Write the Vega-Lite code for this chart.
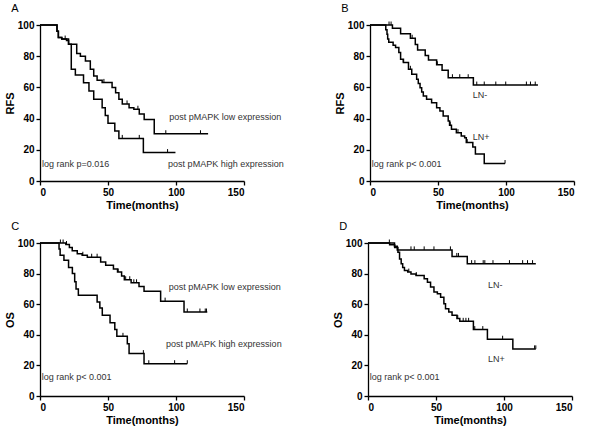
{
  "$schema": "https://vega.github.io/schema/vega-lite/v6.json",
  "padding": {"left": 4, "top": 2, "right": 2, "bottom": 2},
  "background": "white",
  "config": {
    "view": {"stroke": null},
    "font": "Liberation Sans",
    "axis": {
      "grid": false,
      "domainColor": "black",
      "domainWidth": 1.3,
      "tickColor": "black",
      "tickWidth": 1.3,
      "tickSize": 4,
      "labelFont": "Liberation Sans",
      "labelFontWeight": "bold",
      "labelFontSize": 10,
      "labelColor": "black",
      "labelPadding": 2,
      "titleFont": "Liberation Sans",
      "titleFontWeight": "bold",
      "titleFontSize": 11,
      "titleColor": "black",
      "titlePadding": 2
    },
    "title": {"anchor": "start", "frame": "bounds", "fontSize": 11, "fontWeight": "normal", "font": "Liberation Sans", "color": "black", "offset": 6, "dx": 7}
  },
  "datasets": {
    "km": [
      {"panel":"A","g":"low","t":0,"s":100},{"panel":"A","g":"low","t":12.5,"s":96},{"panel":"A","g":"low","t":13.5,"s":92},{"panel":"A","g":"low","t":16,"s":91},{"panel":"A","g":"low","t":19.5,"s":90},{"panel":"A","g":"low","t":21,"s":87.6},{"panel":"A","g":"low","t":27,"s":81.8},{"panel":"A","g":"low","t":29.7,"s":80},{"panel":"A","g":"low","t":33.4,"s":76.9},{"panel":"A","g":"low","t":37,"s":71.6},{"panel":"A","g":"low","t":39.5,"s":67.3},{"panel":"A","g":"low","t":42,"s":64.6},{"panel":"A","g":"low","t":45.7,"s":63.2},{"panel":"A","g":"low","t":53,"s":60},{"panel":"A","g":"low","t":55.6,"s":56.6},{"panel":"A","g":"low","t":58,"s":52.4},{"panel":"A","g":"low","t":60.5,"s":49.4},{"panel":"A","g":"low","t":65.5,"s":47},{"panel":"A","g":"low","t":69,"s":46},{"panel":"A","g":"low","t":73,"s":43},{"panel":"A","g":"low","t":76.6,"s":39.5},{"panel":"A","g":"low","t":84,"s":30.3},{"panel":"A","g":"low","t":123.6,"s":30.3},
      {"panel":"A","g":"high","t":0,"s":100},{"panel":"A","g":"high","t":12.5,"s":96},{"panel":"A","g":"high","t":13.5,"s":92},{"panel":"A","g":"high","t":16,"s":91},{"panel":"A","g":"high","t":21,"s":87.6},{"panel":"A","g":"high","t":23,"s":71.6},{"panel":"A","g":"high","t":26,"s":68},{"panel":"A","g":"high","t":32,"s":63},{"panel":"A","g":"high","t":36,"s":57.7},{"panel":"A","g":"high","t":39.5,"s":52.4},{"panel":"A","g":"high","t":45.7,"s":47},{"panel":"A","g":"high","t":48,"s":42},{"panel":"A","g":"high","t":50,"s":37},{"panel":"A","g":"high","t":55,"s":32},{"panel":"A","g":"high","t":58,"s":27.3},{"panel":"A","g":"high","t":76,"s":18.2},{"panel":"A","g":"high","t":99.6,"s":18.2},
      {"panel":"B","g":"neg","t":0,"s":100},{"panel":"B","g":"neg","t":16.5,"s":97.9},{"panel":"B","g":"neg","t":22.5,"s":94.4},{"panel":"B","g":"neg","t":29.7,"s":91.5},{"panel":"B","g":"neg","t":33.3,"s":87.5},{"panel":"B","g":"neg","t":35,"s":84},{"panel":"B","g":"neg","t":40.6,"s":80.5},{"panel":"B","g":"neg","t":43,"s":77.5},{"panel":"B","g":"neg","t":49,"s":74.5},{"panel":"B","g":"neg","t":53,"s":71},{"panel":"B","g":"neg","t":57.5,"s":66.2},{"panel":"B","g":"neg","t":76,"s":61.5},{"panel":"B","g":"neg","t":123.5,"s":61.5},
      {"panel":"B","g":"pos","t":0,"s":100},{"panel":"B","g":"pos","t":11.6,"s":97},{"panel":"B","g":"pos","t":12.5,"s":94},{"panel":"B","g":"pos","t":13,"s":91},{"panel":"B","g":"pos","t":13.8,"s":89},{"panel":"B","g":"pos","t":17,"s":87},{"panel":"B","g":"pos","t":18.8,"s":85.5},{"panel":"B","g":"pos","t":21.2,"s":82.3},{"panel":"B","g":"pos","t":22.5,"s":78},{"panel":"B","g":"pos","t":24.6,"s":75.9},{"panel":"B","g":"pos","t":28.3,"s":71.6},{"panel":"B","g":"pos","t":30.7,"s":68.4},{"panel":"B","g":"pos","t":34.3,"s":65.2},{"panel":"B","g":"pos","t":35.5,"s":62.5},{"panel":"B","g":"pos","t":36.8,"s":59.8},{"panel":"B","g":"pos","t":38,"s":57},{"panel":"B","g":"pos","t":39.2,"s":54.5},{"panel":"B","g":"pos","t":41.6,"s":52.4},{"panel":"B","g":"pos","t":45.3,"s":50.2},{"panel":"B","g":"pos","t":49,"s":47},{"panel":"B","g":"pos","t":51.4,"s":44.9},{"panel":"B","g":"pos","t":53.8,"s":41.7},{"panel":"B","g":"pos","t":57.5,"s":38.5},{"panel":"B","g":"pos","t":58.5,"s":35.8},{"panel":"B","g":"pos","t":59.9,"s":33.1},{"panel":"B","g":"pos","t":63.5,"s":31},{"panel":"B","g":"pos","t":67.1,"s":28.8},{"panel":"B","g":"pos","t":69.6,"s":27.8},{"panel":"B","g":"pos","t":70.8,"s":24.6},{"panel":"B","g":"pos","t":75.6,"s":21.8},{"panel":"B","g":"pos","t":77.5,"s":17.3},{"panel":"B","g":"pos","t":84,"s":11.2},{"panel":"B","g":"pos","t":99.3,"s":11.2},
      {"panel":"C","g":"low","t":0,"s":100},{"panel":"C","g":"low","t":19,"s":99},{"panel":"C","g":"low","t":21.6,"s":97},{"panel":"C","g":"low","t":23.7,"s":95},{"panel":"C","g":"low","t":27.4,"s":93},{"panel":"C","g":"low","t":31,"s":92},{"panel":"C","g":"low","t":34.8,"s":90.7},{"panel":"C","g":"low","t":44.6,"s":87.6},{"panel":"C","g":"low","t":48.3,"s":85.4},{"panel":"C","g":"low","t":54,"s":83},{"panel":"C","g":"low","t":57,"s":81},{"panel":"C","g":"low","t":60,"s":78.5},{"panel":"C","g":"low","t":62,"s":76},{"panel":"C","g":"low","t":67,"s":74},{"panel":"C","g":"low","t":72.8,"s":71.5},{"panel":"C","g":"low","t":76.5,"s":68.5},{"panel":"C","g":"low","t":88.7,"s":62},{"panel":"C","g":"low","t":105.9,"s":54.9},{"panel":"C","g":"low","t":123,"s":54.9},
      {"panel":"C","g":"high","t":0,"s":100},{"panel":"C","g":"high","t":14,"s":96},{"panel":"C","g":"high","t":14.8,"s":92},{"panel":"C","g":"high","t":17.6,"s":88.7},{"panel":"C","g":"high","t":21,"s":84},{"panel":"C","g":"high","t":23.8,"s":80},{"panel":"C","g":"high","t":25.5,"s":74.6},{"panel":"C","g":"high","t":26.5,"s":70},{"panel":"C","g":"high","t":28.2,"s":65.8},{"panel":"C","g":"high","t":42,"s":61.4},{"panel":"C","g":"high","t":44,"s":57.5},{"panel":"C","g":"high","t":45.8,"s":52.7},{"panel":"C","g":"high","t":51.5,"s":47.8},{"panel":"C","g":"high","t":55,"s":43.5},{"panel":"C","g":"high","t":56.5,"s":39},{"panel":"C","g":"high","t":64.2,"s":34.2},{"panel":"C","g":"high","t":65.5,"s":27.7},{"panel":"C","g":"high","t":76.5,"s":21.1},{"panel":"C","g":"high","t":108.3,"s":21.1},
      {"panel":"D","g":"neg","t":0,"s":100},{"panel":"D","g":"neg","t":19.5,"s":97.8},{"panel":"D","g":"neg","t":21.5,"s":95.5},{"panel":"D","g":"neg","t":61.8,"s":91.2},{"panel":"D","g":"neg","t":73,"s":86.5},{"panel":"D","g":"neg","t":123.4,"s":86.5},
      {"panel":"D","g":"pos","t":0,"s":100},{"panel":"D","g":"pos","t":15.9,"s":98.8},{"panel":"D","g":"pos","t":19.6,"s":97},{"panel":"D","g":"pos","t":22,"s":94},{"panel":"D","g":"pos","t":23.2,"s":89.6},{"panel":"D","g":"pos","t":24.4,"s":86.4},{"panel":"D","g":"pos","t":25.5,"s":84},{"panel":"D","g":"pos","t":26.8,"s":82},{"panel":"D","g":"pos","t":29.2,"s":81},{"panel":"D","g":"pos","t":31.6,"s":79.8},{"panel":"D","g":"pos","t":35.3,"s":78.7},{"panel":"D","g":"pos","t":41.3,"s":76.6},{"panel":"D","g":"pos","t":43.7,"s":74.4},{"panel":"D","g":"pos","t":46,"s":71.2},{"panel":"D","g":"pos","t":48.5,"s":67.9},{"panel":"D","g":"pos","t":51,"s":66.8},{"panel":"D","g":"pos","t":53.4,"s":64.6},{"panel":"D","g":"pos","t":55.8,"s":60.3},{"panel":"D","g":"pos","t":57,"s":57},{"panel":"D","g":"pos","t":59.4,"s":54.9},{"panel":"D","g":"pos","t":61.8,"s":52.8},{"panel":"D","g":"pos","t":65.4,"s":50.6},{"panel":"D","g":"pos","t":67.5,"s":48.8},{"panel":"D","g":"pos","t":77.5,"s":43.4},{"panel":"D","g":"pos","t":87.8,"s":37.1},{"panel":"D","g":"pos","t":106.5,"s":30.8},{"panel":"D","g":"pos","t":123.4,"s":30.8}
    ],
    "cens": [
      {"panel":"A","t":18.5,"s":91},{"panel":"A","t":47,"s":63.2},{"panel":"A","t":64,"s":49.4},{"panel":"A","t":72,"s":46},{"panel":"A","t":92.5,"s":30.3},{"panel":"A","t":118,"s":30.3},
      {"panel":"A","t":60.5,"s":27.3},{"panel":"A","t":73,"s":27.3},{"panel":"A","t":93.8,"s":18.2},
      {"panel":"B","t":14,"s":100},{"panel":"B","t":15.5,"s":100},{"panel":"B","t":31,"s":91.5},{"panel":"B","t":49.5,"s":74.5},{"panel":"B","t":60.6,"s":66.2},{"panel":"B","t":66,"s":66.2},{"panel":"B","t":72.2,"s":66.2},{"panel":"B","t":78.5,"s":61.5},{"panel":"B","t":84,"s":61.5},{"panel":"B","t":92.5,"s":61.5},{"panel":"B","t":99.8,"s":61.5},{"panel":"B","t":115,"s":61.5},{"panel":"B","t":118,"s":61.5},{"panel":"B","t":121.5,"s":61.5},
      {"panel":"B","t":24.4,"s":75.9},{"panel":"B","t":29.7,"s":71.6},{"panel":"B","t":59,"s":35.8},{"panel":"B","t":64.7,"s":31},{"panel":"B","t":71.5,"s":24.6},{"panel":"B","t":99.3,"s":11.2},
      {"panel":"C","t":15,"s":100},{"panel":"C","t":17,"s":100},{"panel":"C","t":19.5,"s":99},{"panel":"C","t":31.5,"s":92},{"panel":"C","t":38,"s":90.7},{"panel":"C","t":42,"s":90.7},{"panel":"C","t":57.5,"s":81},{"panel":"C","t":63,"s":76},{"panel":"C","t":66,"s":76},{"panel":"C","t":69,"s":74},{"panel":"C","t":71,"s":74},{"panel":"C","t":92,"s":62},{"panel":"C","t":108.3,"s":54.9},{"panel":"C","t":117.6,"s":54.9},{"panel":"C","t":121.5,"s":54.9},{"panel":"C","t":122.4,"s":54.9},
      {"panel":"C","t":61,"s":39},{"panel":"C","t":76,"s":27.7},{"panel":"C","t":80,"s":21.1},{"panel":"C","t":99,"s":21.1},{"panel":"C","t":108.3,"s":21.1},
      {"panel":"D","t":15.7,"s":100},{"panel":"D","t":31.6,"s":95.5},{"panel":"D","t":34,"s":95.5},{"panel":"D","t":41.3,"s":95.5},{"panel":"D","t":48.5,"s":95.5},{"panel":"D","t":60.6,"s":95.5},{"panel":"D","t":65.3,"s":91.2},{"panel":"D","t":66.5,"s":91.2},{"panel":"D","t":76.2,"s":86.5},{"panel":"D","t":78.6,"s":86.5},{"panel":"D","t":84.7,"s":86.5},{"panel":"D","t":85.9,"s":86.5},{"panel":"D","t":91.9,"s":86.5},{"panel":"D","t":104,"s":86.5},{"panel":"D","t":113.7,"s":86.5},{"panel":"D","t":117.3,"s":86.5},{"panel":"D","t":121,"s":86.5},
      {"panel":"D","t":30,"s":81},{"panel":"D","t":35.5,"s":78.7},{"panel":"D","t":66,"s":50.6},{"panel":"D","t":70,"s":48.8},{"panel":"D","t":72,"s":48.8},{"panel":"D","t":74,"s":48.8},{"panel":"D","t":78.5,"s":43.4},{"panel":"D","t":84.4,"s":43.4},{"panel":"D","t":99,"s":37.1},{"panel":"D","t":122.5,"s":30.8},{"panel":"D","t":123.4,"s":30.8}
    ]
  },
  "vconcat": [
    {
      "spacing": 50,
      "hconcat": [
        {
          "title": "A",
          "width": 204, "height": 156,
          "encoding": {
            "x": {"type": "quantitative", "scale": {"domain": [0, 150], "nice": false}, "axis": {"title": "Time(months)", "values": [0, 50, 100, 150]}},
            "y": {"type": "quantitative", "scale": {"domain": [0, 100], "nice": false}, "axis": {"title": "RFS", "tickCount": 5, "labelOverlap": false}}
          },
          "layer": [
            {"data": {"name": "km"}, "transform": [{"filter": "datum.panel === 'A'"}],
             "mark": {"type": "line", "interpolate": "step-after", "color": "black", "strokeWidth": 1.5},
             "encoding": {"x": {"field": "t", "type": "quantitative"}, "y": {"field": "s", "type": "quantitative"}, "detail": {"field": "g"}}},
            {"data": {"name": "cens"}, "transform": [{"filter": "datum.panel === 'A'"}],
             "mark": {"type": "point", "shape": "M0,0L0,-1", "size": 49, "filled": false, "stroke": "black", "strokeWidth": 1, "opacity": 1},
             "encoding": {"x": {"field": "t", "type": "quantitative"}, "y": {"field": "s", "type": "quantitative"}}},
            {"data": {"values": [{}]}, "mark": {"type": "text", "text": "post pMAPK low expression", "font": "Liberation Sans", "fontSize": 9, "color": "#333", "align": "left", "baseline": "middle"}, "encoding": {"x": {"datum": 95}, "y": {"datum": 41}}},
            {"data": {"values": [{}]}, "mark": {"type": "text", "text": "post pMAPK high expression", "font": "Liberation Sans", "fontSize": 9, "color": "#333", "align": "left", "baseline": "middle"}, "encoding": {"x": {"datum": 94.2}, "y": {"datum": 10.9}}},
            {"data": {"values": [{}]}, "mark": {"type": "text", "text": "log rank p=0.016", "font": "Liberation Sans", "fontSize": 9, "color": "#333", "align": "left", "baseline": "middle"}, "encoding": {"x": {"datum": 1.5}, "y": {"datum": 10.9}}}
          ]
        },
        {
          "title": "B",
          "width": 204, "height": 156,
          "encoding": {
            "x": {"type": "quantitative", "scale": {"domain": [0, 150], "nice": false}, "axis": {"title": "Time(months)", "values": [0, 50, 100, 150]}},
            "y": {"type": "quantitative", "scale": {"domain": [0, 100], "nice": false}, "axis": {"title": "RFS", "tickCount": 5, "labelOverlap": false}}
          },
          "layer": [
            {"data": {"name": "km"}, "transform": [{"filter": "datum.panel === 'B'"}],
             "mark": {"type": "line", "interpolate": "step-after", "color": "black", "strokeWidth": 1.5},
             "encoding": {"x": {"field": "t", "type": "quantitative"}, "y": {"field": "s", "type": "quantitative"}, "detail": {"field": "g"}}},
            {"data": {"name": "cens"}, "transform": [{"filter": "datum.panel === 'B'"}],
             "mark": {"type": "point", "shape": "M0,0L0,-1", "size": 49, "filled": false, "stroke": "black", "strokeWidth": 1, "opacity": 1},
             "encoding": {"x": {"field": "t", "type": "quantitative"}, "y": {"field": "s", "type": "quantitative"}}},
            {"data": {"values": [{}]}, "mark": {"type": "text", "text": "LN-", "font": "Liberation Sans", "fontSize": 9, "color": "#333", "align": "left", "baseline": "middle"}, "encoding": {"x": {"datum": 75.6}, "y": {"datum": 55}}},
            {"data": {"values": [{}]}, "mark": {"type": "text", "text": "LN+", "font": "Liberation Sans", "fontSize": 9, "color": "#333", "align": "left", "baseline": "middle"}, "encoding": {"x": {"datum": 75.6}, "y": {"datum": 28.2}}},
            {"data": {"values": [{}]}, "mark": {"type": "text", "text": "log rank p< 0.001", "font": "Liberation Sans", "fontSize": 9, "color": "#333", "align": "left", "baseline": "middle"}, "encoding": {"x": {"datum": 1.2}, "y": {"datum": 11.1}}}
          ]
        }
      ]
    },
    {
      "spacing": 50,
      "hconcat": [
        {
          "title": "C",
          "width": 204, "height": 153,
          "encoding": {
            "x": {"type": "quantitative", "scale": {"domain": [0, 150], "nice": false}, "axis": {"title": "Time(months)", "values": [0, 50, 100, 150]}},
            "y": {"type": "quantitative", "scale": {"domain": [0, 100], "nice": false}, "axis": {"title": "OS", "tickCount": 5, "labelOverlap": false}}
          },
          "layer": [
            {"data": {"name": "km"}, "transform": [{"filter": "datum.panel === 'C'"}],
             "mark": {"type": "line", "interpolate": "step-after", "color": "black", "strokeWidth": 1.5},
             "encoding": {"x": {"field": "t", "type": "quantitative"}, "y": {"field": "s", "type": "quantitative"}, "detail": {"field": "g"}}},
            {"data": {"name": "cens"}, "transform": [{"filter": "datum.panel === 'C'"}],
             "mark": {"type": "point", "shape": "M0,0L0,-1", "size": 49, "filled": false, "stroke": "black", "strokeWidth": 1, "opacity": 1},
             "encoding": {"x": {"field": "t", "type": "quantitative"}, "y": {"field": "s", "type": "quantitative"}}},
            {"data": {"values": [{}]}, "mark": {"type": "text", "text": "post pMAPK low expression", "font": "Liberation Sans", "fontSize": 9, "color": "#333", "align": "left", "baseline": "middle"}, "encoding": {"x": {"datum": 94.7}, "y": {"datum": 71.3}}},
            {"data": {"values": [{}]}, "mark": {"type": "text", "text": "post pMAPK high expression", "font": "Liberation Sans", "fontSize": 9, "color": "#333", "align": "left", "baseline": "middle"}, "encoding": {"x": {"datum": 92.7}, "y": {"datum": 33.9}}},
            {"data": {"values": [{}]}, "mark": {"type": "text", "text": "log rank p< 0.001", "font": "Liberation Sans", "fontSize": 9, "color": "#333", "align": "left", "baseline": "middle"}, "encoding": {"x": {"datum": 1.2}, "y": {"datum": 12.2}}}
          ]
        },
        {
          "title": "D",
          "width": 204, "height": 153,
          "encoding": {
            "x": {"type": "quantitative", "scale": {"domain": [0, 150], "nice": false}, "axis": {"title": "Time(months)", "values": [0, 50, 100, 150]}},
            "y": {"type": "quantitative", "scale": {"domain": [0, 100], "nice": false}, "axis": {"title": "OS", "tickCount": 5, "labelOverlap": false}}
          },
          "layer": [
            {"data": {"name": "km"}, "transform": [{"filter": "datum.panel === 'D'"}],
             "mark": {"type": "line", "interpolate": "step-after", "color": "black", "strokeWidth": 1.5},
             "encoding": {"x": {"field": "t", "type": "quantitative"}, "y": {"field": "s", "type": "quantitative"}, "detail": {"field": "g"}}},
            {"data": {"name": "cens"}, "transform": [{"filter": "datum.panel === 'D'"}],
             "mark": {"type": "point", "shape": "M0,0L0,-1", "size": 49, "filled": false, "stroke": "black", "strokeWidth": 1, "opacity": 1},
             "encoding": {"x": {"field": "t", "type": "quantitative"}, "y": {"field": "s", "type": "quantitative"}}},
            {"data": {"values": [{}]}, "mark": {"type": "text", "text": "LN-", "font": "Liberation Sans", "fontSize": 9, "color": "#333", "align": "left", "baseline": "middle"}, "encoding": {"x": {"datum": 88.3}, "y": {"datum": 72.7}}},
            {"data": {"values": [{}]}, "mark": {"type": "text", "text": "LN+", "font": "Liberation Sans", "fontSize": 9, "color": "#333", "align": "left", "baseline": "middle"}, "encoding": {"x": {"datum": 88.3}, "y": {"datum": 24.5}}},
            {"data": {"values": [{}]}, "mark": {"type": "text", "text": "log rank p< 0.001", "font": "Liberation Sans", "fontSize": 9, "color": "#333", "align": "left", "baseline": "middle"}, "encoding": {"x": {"datum": 1.2}, "y": {"datum": 12.1}}}
          ]
        }
      ]
    }
  ],
  "spacing": 10
}
